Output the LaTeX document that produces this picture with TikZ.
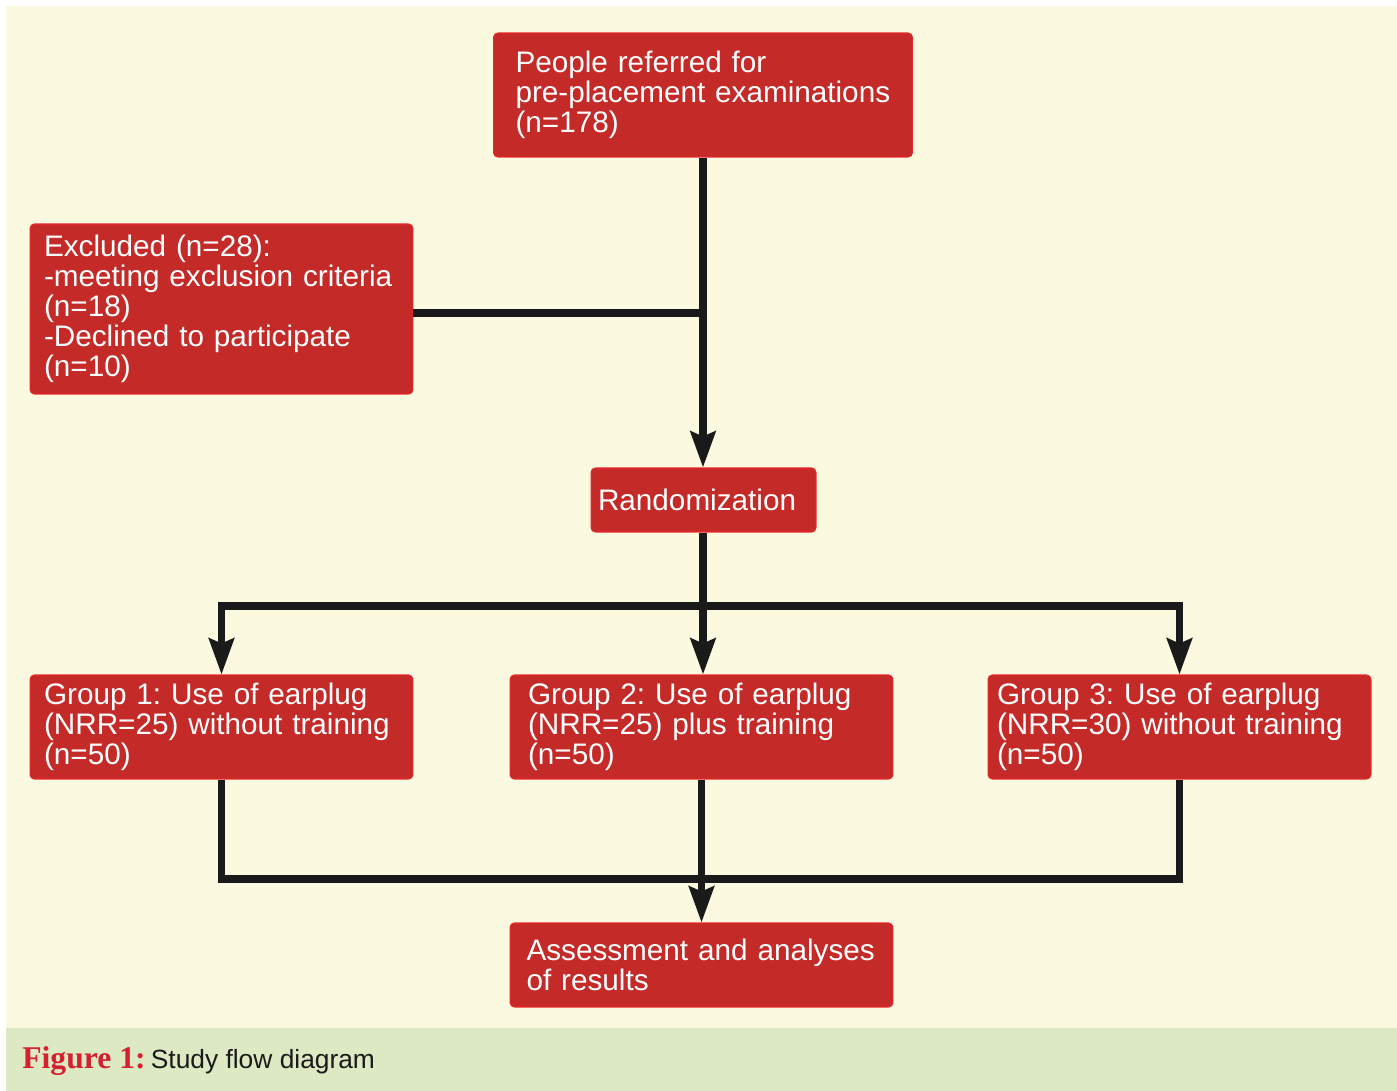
\documentclass[tikz,border=0pt]{standalone}
\usepackage{fontspec}
\setmainfont{Liberation Sans}
\newfontfamily\capserif{Liberation Serif}
\usetikzlibrary{arrows.meta}
\definecolor{creambg}{HTML}{FCF9E1}
\definecolor{capgreen}{HTML}{DCE9C3}
\definecolor{boxred}{HTML}{C42A27}
\definecolor{edgered}{HTML}{E8262A}
\definecolor{figred}{HTML}{D3212F}
\definecolor{inkdark}{HTML}{1A1A1A}
\frenchspacing
\hyphenpenalty=10000
\exhyphenpenalty=10000
\newcommand{\boxfont}{\fontsize{16.9}{17.1}\selectfont}
\tikzset{
  stagebox/.style={draw=edgered, fill=boxred, line width=0.6pt, rounded corners=2.5pt,
    text=white, font=\boxfont, align=left, inner ysep=0pt},
  flowline/.style={draw=inkdark, line width=4pt},
  flowarrow/.style={flowline, -{Stealth[length=0.72cm,width=0.5cm,inset=0.1cm]}}
}

\begin{document}
\begin{tikzpicture}[x=0.02cm,y=-0.02cm]
    \useasboundingbox (0,0) rectangle (1397,1091);
    \fill[white] (0,0) rectangle (1397,1091);
    \fill[creambg] (6,6) rectangle (1397,1028);
    \fill[capgreen] (6,1028) rectangle (1397,1091);

    \node[stagebox, text width=7.50cm, inner xsep=0.44cm, minimum height=2.48cm] (referred) at (703,95)
        {People referred for\\pre-placement examinations\\(n=178)};
    \node[stagebox, text width=7.10cm, inner xsep=0.28cm, minimum height=3.40cm] (excluded) at (221.5,309)
        {Excluded (n=28):\\-meeting exclusion criteria\\(n=18)\\-Declined to participate\\(n=10)};
    \node[stagebox, text width=4.22cm, inner xsep=0.14cm, minimum height=1.28cm] (random) at (703.5,500)
        {Randomization};
    \node[stagebox, text width=7.10cm, inner xsep=0.28cm, minimum height=2.08cm] (group1) at (221.5,727)
        {Group 1: Use of earplug\\(NRR=25) without training\\(n=50)};
    \node[stagebox, text width=6.94cm, inner xsep=0.36cm, minimum height=2.08cm] (group2) at (701.5,727)
        {Group 2: Use of earplug\\(NRR=25) plus training\\(n=50)};
    \node[stagebox, text width=7.30cm, inner xsep=0.18cm, minimum height=2.08cm] (group3) at (1179.5,727)
        {Group 3: Use of earplug\\(NRR=30) without training\\(n=50)};
    \node[stagebox, text width=7.00cm, inner xsep=0.33cm, minimum height=1.68cm] (assess) at (701.5,965)
        {Assessment and analyses\\of results};

    \coordinate (split) at (703,606);
    \coordinate (merge) at (701.5,879);

    \draw[flowarrow] (referred.south) -- (referred.south |- random.north);
    \draw[flowline] ([yshift=-0.08cm]excluded.east) -- ([yshift=-0.08cm]excluded.east -| referred.south);
    \draw[flowline] (random.south -| split) -- (split);
    \draw[flowarrow] (split) -| (group1.north);
    \draw[flowarrow] (split) -| (group3.north);
    \draw[flowarrow] (split) -- (split |- group2.north);
    \draw[flowline] (group1.south) |- (merge) -| (group3.south);
    \draw[flowarrow] (group2.south) -- (assess.north);

    \node[anchor=base west, inner sep=0pt] (caption) at (22,1068)
        {{\capserif\fontsize{18}{20}\selectfont\bfseries\color{figred}Figure 1:}\hspace{0.3em}%
         {\fontsize{15}{18}\selectfont\color{inkdark}Study flow diagram}};
\end{tikzpicture}
\end{document}
